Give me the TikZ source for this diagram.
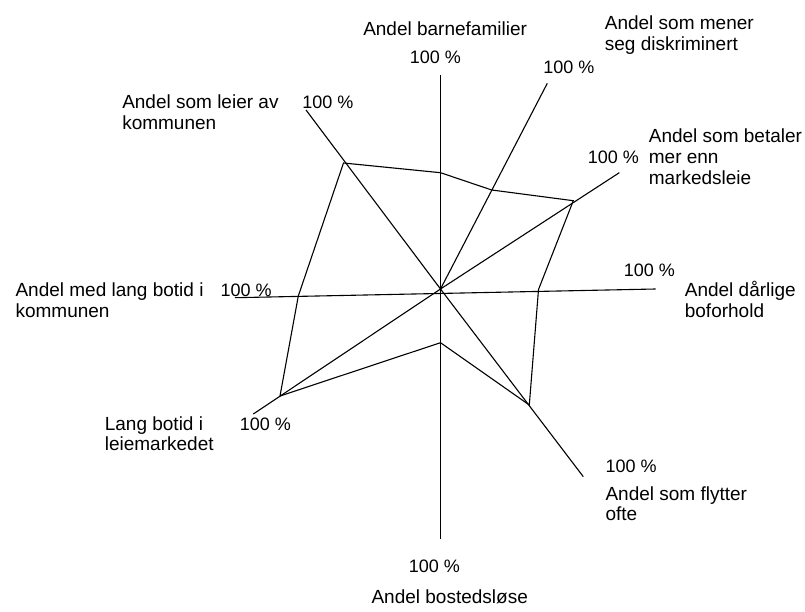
\documentclass[tikz,border=0pt]{standalone}
\usepackage{fontspec}
\setmainfont{Liberation Sans}
\usepackage{tikz}

\tikzset{
  lbl/.style={anchor=base west, inner sep=0pt, align=left, font=\fontsize{19}{20.8}\selectfont},
  pct/.style={anchor=base west, inner sep=0pt, font=\fontsize{18}{20.8}\selectfont}
}

\begin{document}
\begin{tikzpicture}[x=1pt,y=-1pt,line width=1.1pt]
\useasboundingbox (0,0) rectangle (805,612);
% axis ends
\coordinate (c) at (440.5,289);
\coordinate (n) at (440.5,75);
\coordinate (ne) at (547.3,83.3);
\coordinate (ene) at (619.3,172.7);
\coordinate (e) at (655.5,289);
\coordinate (se) at (583.3,476.7);
\coordinate (s) at (440.5,539.3);
\coordinate (sw) at (253.3,414);
\coordinate (w) at (235,297.7);
\coordinate (nw) at (306,110);
\foreach \a in {n,ne,ene,se,s,sw,nw} {
\draw (c) -- (\a);
}
\draw (w) -- (e);
% data
\coordinate (dn) at (440.5,172.7);
\coordinate (dne) at (491.7,190);
\coordinate (dene) at (573.3,200.7);
\coordinate (de) at (538.5,289.5);
\coordinate (dse) at (529.3,405);
\coordinate (ds) at (440.5,342.7);
\coordinate (dsw) at (280,396);
\coordinate (dw) at (298.3,296);
\coordinate (dnw) at (343.5,163);
\draw (dn) -- (dne) -- (dene) -- (de) -- (dse) -- (ds) -- (dsw) -- (dw) -- (dnw) -- cycle;
% labels (multi-line ones placed at their last baseline)
\node[lbl] (ln) at (362.7,36) {Andel barnefamilier};
\node[pct] (pn) at (409.3,63.3) {100 \%};
\node[lbl] (lne) at (604.3,50.1) {Andel som mener\\seg diskriminert};
\node[pct] (pne) at (542.7,73.3) {100 \%};
\node[lbl] (lene) at (648.3,184.5) {Andel som betaler\\mer enn\\markedsleie};
\node[pct] (pene) at (587.3,163.3) {100 \%};
\node[pct] (pe) at (623.3,276.7) {100 \%};
\node[lbl] (le) at (684.3,317.5) {Andel dårlige\\boforhold};
\node[pct] (pse) at (605,472.7) {100 \%};
\node[lbl] (lse) at (605,520.8) {Andel som flytter\\ofte};
\node[pct] (ps) at (408.3,572.7) {100 \%};
\node[lbl] (ls) at (371,603.3) {Andel bostedsløse};
\node[pct] (psw) at (239.3,430) {100 \%};
\node[lbl] (lsw) at (104.3,450.8) {Lang botid i\\leiemarkedet};
\node[pct] (pw) at (220,296.7) {100 \%};
\node[lbl] (lw) at (15,317.5) {Andel med lang botid i\\kommunen};
\node[pct] (pnw) at (301.7,108.3) {100 \%};
\node[lbl] (lnw) at (121.7,129.1) {Andel som leier av\\kommunen};
\end{tikzpicture}
\end{document}
